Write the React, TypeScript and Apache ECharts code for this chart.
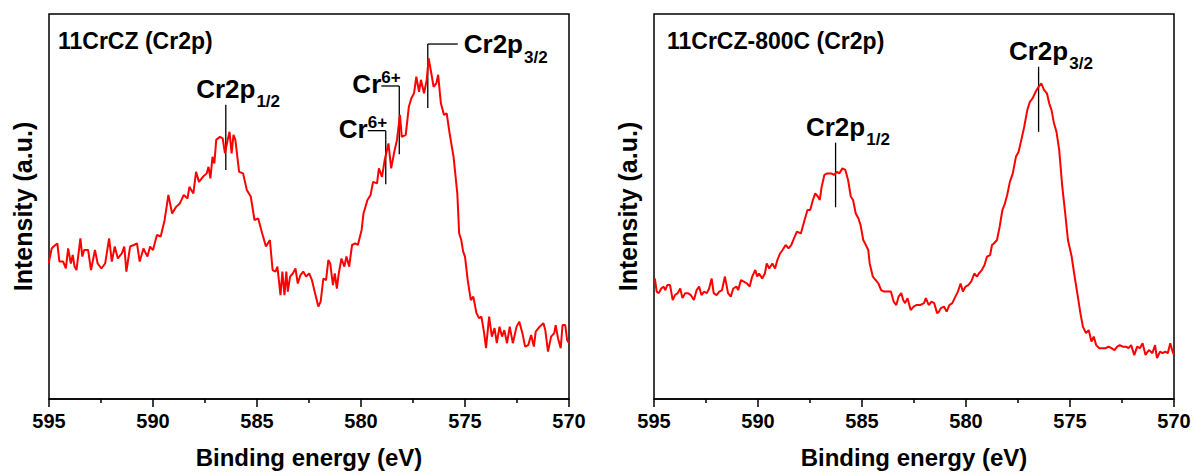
import React, { useEffect, useRef } from 'react';
import * as echarts from 'echarts';

// ---------- data ----------
const xTickValues = [595, 590, 585, 580, 575, 570];
const panelTitles = ['11CrCZ (Cr2p)', '11CrCZ-800C (Cr2p)'];
const xAxisName = 'Binding energy (eV)';
const yAxisName = 'Intensity (a.u.)';

const leftEnergy = [
  595.02, 594.87, 594.78, 594.6, 594.5, 594.32, 594.19, 594.08, 593.95, 593.86, 593.77, 593.68, 593.49, 593.4,
  593.31, 593.12, 592.98, 592.79, 592.66, 592.48, 592.3, 592.11, 591.98, 591.84, 591.69, 591.5, 591.38, 591.28,
  591.1, 590.92, 590.77, 590.64, 590.46, 590.27, 590.14, 590.0, 589.81, 589.63, 589.44, 589.26, 589.08, 588.89,
  588.71, 588.52, 588.34, 588.25, 588.06, 587.93, 587.79, 587.6, 587.42, 587.33, 587.24, 587.14, 587.05, 586.96,
  586.78, 586.65, 586.54, 586.41, 586.32, 586.22, 586.13, 586.04, 585.86, 585.67, 585.49, 585.3, 585.12, 584.94,
  584.75, 584.57, 584.38, 584.25, 584.11, 584.02, 583.87, 583.78, 583.68, 583.59, 583.52, 583.41, 583.28, 583.15,
  583.04, 582.91, 582.78, 582.64, 582.49, 582.36, 582.23, 582.05, 581.94, 581.81, 581.68, 581.57, 581.48, 581.35,
  581.26, 581.16, 581.07, 580.94, 580.8, 580.7, 580.57, 580.43, 580.28, 580.15, 579.97, 579.88, 579.69, 579.54,
  579.42, 579.23, 579.14, 578.99, 578.86, 578.77, 578.68, 578.55, 578.4, 578.27, 578.13, 578.04, 577.85, 577.7,
  577.58, 577.45, 577.34, 577.21, 577.12, 576.97, 576.84, 576.75, 576.62, 576.51, 576.38, 576.29, 576.16, 576.01,
  575.88, 575.74, 575.55, 575.37, 575.28, 575.18, 575.09, 575.0, 574.87, 574.72, 574.6, 574.45, 574.32, 574.21,
  574.08, 573.99, 573.84, 573.71, 573.58, 573.47, 573.34, 573.22, 573.11, 572.98, 572.85, 572.7, 572.52, 572.39,
  572.24, 572.11, 571.96, 571.82, 571.69, 571.6, 571.41, 571.23, 571.14, 571.01, 570.86, 570.71, 570.64, 570.53,
  570.4, 570.31, 570.18, 570.09, 570.0,
];
const leftIntensity = [
  35.2, 39.1, 39.6, 40.4, 35.7, 35.7, 33.9, 39.1, 35.2, 37.4, 34.4, 33.5, 41.7, 37.0,
  38.7, 38.7, 33.5, 38.7, 35.2, 33.9, 35.2, 41.7, 35.7, 39.6, 36.5, 37.8, 39.6, 33.1,
  39.6, 40.0, 40.4, 35.7, 39.1, 37.0, 39.6, 38.7, 42.6, 42.2, 46.5, 53.0, 48.2, 49.9,
  50.8, 53.0, 52.1, 55.1, 53.4, 59.0, 56.4, 57.7, 58.6, 60.3, 57.3, 62.9, 61.2, 67.3,
  68.1, 67.7, 63.8, 67.3, 69.4, 63.8, 68.6, 67.3, 59.0, 58.6, 54.3, 52.6, 46.5, 46.9,
  43.0, 39.6, 41.3, 33.5, 33.1, 34.4, 27.0, 33.1, 27.0, 33.1, 27.9, 31.8, 32.6, 33.9,
  30.0, 32.2, 33.1, 31.8, 32.6, 30.9, 27.9, 24.0, 25.3, 31.3, 30.9, 36.1, 35.2, 29.6,
  32.6, 28.7, 32.6, 36.5, 34.4, 37.0, 34.4, 40.0, 40.4, 40.0, 43.9, 48.2, 51.7, 53.0,
  56.4, 56.0, 59.9, 57.7, 62.1, 64.2, 66.4, 59.9, 64.2, 67.3, 73.8, 68.1, 68.6, 75.9,
  78.1, 79.4, 83.7, 79.8, 82.9, 79.4, 82.9, 88.5, 84.6, 81.1, 82.0, 84.2, 76.8, 73.8,
  74.2, 69.0, 62.9, 53.4, 43.0, 41.3, 38.3, 37.0, 30.9, 25.7, 26.6, 22.3, 21.0, 21.4,
  17.1, 13.2, 21.4, 16.2, 18.4, 14.5, 18.8, 16.2, 17.9, 14.5, 18.8, 14.5, 18.8, 20.1,
  17.1, 13.6, 14.0, 16.6, 13.6, 17.5, 18.8, 19.7, 17.9, 12.3, 16.2, 17.1, 19.2, 15.8,
  13.2, 19.2, 19.2, 15.3, 14.5,
];

const rightEnergy = [
  594.96, 594.87, 594.77, 594.65, 594.54, 594.46, 594.36, 594.23, 594.1, 593.99, 593.86, 593.74, 593.63, 593.5,
  593.37, 593.23, 593.08, 592.95, 592.83, 592.72, 592.59, 592.46, 592.35, 592.23, 592.13, 591.99, 591.86, 591.73,
  591.59, 591.44, 591.31, 591.19, 591.04, 590.95, 590.82, 590.68, 590.53, 590.4, 590.28, 590.13, 590.04, 589.95,
  589.8, 589.67, 589.58, 589.46, 589.31, 589.18, 589.07, 588.94, 588.82, 588.67, 588.53, 588.4, 588.27, 588.13,
  587.94, 587.76, 587.62, 587.49, 587.36, 587.25, 587.12, 587.03, 586.94, 586.81, 586.67, 586.48, 586.34, 586.21,
  586.09, 585.94, 585.8, 585.67, 585.54, 585.43, 585.3, 585.17, 585.07, 584.94, 584.85, 584.7, 584.63, 584.48,
  584.34, 584.21, 584.08, 583.94, 583.75, 583.61, 583.48, 583.35, 583.24, 583.11, 583.02, 582.93, 582.81, 582.66,
  582.52, 582.39, 582.21, 582.02, 581.93, 581.79, 581.66, 581.53, 581.39, 581.3, 581.21, 581.06, 580.93, 580.8,
  580.66, 580.51, 580.39, 580.26, 580.15, 580.02, 579.89, 579.75, 579.6, 579.47, 579.38, 579.24, 579.11, 578.99,
  578.84, 578.75, 578.66, 578.51, 578.38, 578.25, 578.15, 578.02, 577.89, 577.75, 577.6, 577.47, 577.34, 577.2,
  577.05, 576.93, 576.8, 576.65, 576.51, 576.38, 576.25, 576.11, 576.0, 575.89, 575.77, 575.65, 575.52, 575.37,
  575.23, 575.1, 574.92, 574.8, 574.65, 574.5, 574.38, 574.23, 574.1, 573.97, 573.86, 573.74, 573.59, 573.46,
  573.28, 573.15, 573.01, 572.86, 572.73, 572.61, 572.46, 572.31, 572.19, 572.06, 571.91, 571.77, 571.64, 571.51,
  571.37, 571.27, 571.19, 571.04, 570.91, 570.82, 570.67, 570.55, 570.42, 570.3, 570.18, 570.09, 570.0,
];
const rightIntensity = [
  31.3, 27.9, 27.5, 28.7, 29.2, 28.3, 29.6, 29.6, 25.7, 27.0, 27.5, 28.7, 26.2, 27.5,
  27.5, 27.0, 25.7, 28.3, 29.2, 27.0, 27.9, 27.5, 28.7, 31.3, 27.5, 27.0, 27.9, 28.3,
  31.8, 27.5, 26.6, 28.7, 29.2, 28.3, 30.9, 30.5, 30.0, 29.2, 31.8, 33.5, 31.8, 32.6,
  31.3, 32.6, 35.2, 33.9, 35.2, 33.9, 36.1, 37.8, 38.7, 40.0, 39.1, 40.0, 41.7, 43.5,
  43.0, 46.5, 49.1, 49.1, 51.7, 53.4, 52.6, 51.7, 55.1, 58.2, 58.6, 58.6, 58.2, 59.0,
  58.6, 59.9, 59.5, 56.9, 52.6, 51.7, 48.2, 46.9, 45.2, 41.3, 40.4, 38.7, 35.2, 31.8,
  30.9, 30.0, 28.3, 27.9, 27.9, 27.9, 25.3, 24.4, 26.6, 27.5, 25.7, 24.9, 26.2, 23.1,
  24.0, 24.4, 24.4, 24.9, 26.2, 24.4, 25.3, 24.9, 22.3, 22.7, 23.6, 24.0, 22.7, 24.4,
  24.9, 26.6, 27.9, 30.0, 27.9, 29.2, 29.6, 30.5, 32.6, 31.8, 32.6, 33.5, 34.8, 37.0,
  37.4, 40.0, 40.4, 41.3, 44.8, 49.1, 50.4, 53.0, 56.4, 58.6, 62.9, 64.2, 67.3, 70.7,
  75.1, 77.2, 78.1, 79.8, 81.1, 82.0, 80.3, 79.4, 76.8, 75.1, 71.6, 69.4, 64.7, 55.1,
  48.2, 41.3, 37.0, 32.6, 27.5, 22.3, 18.8, 17.1, 17.9, 14.9, 16.2, 14.0, 13.2, 13.2,
  13.2, 13.6, 13.2, 12.7, 13.6, 14.0, 13.6, 13.6, 13.2, 14.0, 11.4, 13.6, 13.2, 14.5,
  11.4, 12.3, 12.7, 11.9, 14.0, 10.6, 12.3, 11.9, 12.3, 11.9, 14.5, 12.7, 11.4,
];

// peak annotations (energy in eV, tick top / bottom in plot intensity units)
const leftAnnoLabel = ['Cr2p', 'Cr', 'Cr', 'Cr2p'];
const leftAnnoScript = ['1/2', '6+', '6+', '3/2'];
const leftAnnoKind = ['top', 'flagLeft', 'flagLeft', 'flagRight'];
const leftAnnoEnergy = [586.5, 578.81, 578.16, 576.79];
const leftAnnoTop = [76.4, 69.7, 81.3, 92.2];
const leftAnnoBottom = [59.5, 55.8, 63.6, 75.6];

const rightAnnoLabel = ['Cr2p', 'Cr2p'];
const rightAnnoScript = ['1/2', '3/2'];
const rightAnnoKind = ['top', 'top'];
const rightAnnoEnergy = [586.27, 576.51];
const rightAnnoTop = [66.6, 86.3];
const rightAnnoBottom = [49.8, 69.4];

// ---------- chart ----------
const FONT = '"Liberation Sans", Arial, Helvetica, sans-serif';
const MAIN_SIZE = 26;
const SCRIPT_SIZE = 17;

function measure(text: string, size: number): number {
  const c = document.createElement('canvas').getContext('2d');
  if (!c) return text.length * size * 0.6;
  c.font = `bold ${size}px "Liberation Sans", Arial, sans-serif`;
  return c.measureText(text).width;
}

export default function App() {
  const ref = useRef<HTMLDivElement>(null);

  useEffect(() => {
    if (!ref.current) return;
    const chart = echarts.init(ref.current, null, { renderer: 'svg' });

    const gridLefts = [49, 654];
    const grids = gridLefts.map((l) => ({
      left: l,
      top: 14,
      width: 520,
      height: 385,
      show: true,
      borderColor: '#000',
      borderWidth: 1.5,
      backgroundColor: 'transparent',
      containLabel: false,
      outerBoundsMode: 'none',
    }));

    const mkX = (i: number) => ({
      type: 'value',
      gridIndex: i,
      min: xTickValues[xTickValues.length - 1],
      max: xTickValues[0],
      interval: 5,
      inverse: true,
      name: xAxisName,
      nameLocation: 'middle',
      nameGap: 46,
      nameTextStyle: { fontSize: 24, fontWeight: 'bold', color: '#000', fontFamily: FONT },
      axisLine: { show: true, onZero: false, lineStyle: { color: '#000', width: 1.5 } },
      axisTick: { show: true, inside: false, length: 8, lineStyle: { color: '#000', width: 1.5 } },
      minorTick: { show: true, splitNumber: 2, length: 4, lineStyle: { color: '#000', width: 1.5 } },
      axisLabel: { fontSize: 20, fontWeight: 'bold', color: '#000', margin: 12, fontFamily: FONT },
      splitLine: { show: false },
      minorSplitLine: { show: false },
    });
    const mkY = (i: number) => ({
      type: 'value',
      gridIndex: i,
      min: 0,
      max: 100,
      name: yAxisName,
      nameLocation: 'middle',
      nameRotate: 90,
      nameGap: 14,
      nameTextStyle: { fontSize: 25, fontWeight: 'bold', color: '#000', fontFamily: FONT },
      axisLine: { show: false },
      axisTick: { show: false },
      axisLabel: { show: false },
      splitLine: { show: false },
    });

    const mkSeries = (i: number, xs: number[], ys: number[]) => ({
      type: 'line',
      xAxisIndex: i,
      yAxisIndex: i,
      data: xs.map((x, k) => [x, ys[k]]),
      showSymbol: false,
      symbol: 'none',
      lineStyle: { color: '#ff0000', width: 2 },
      silent: true,
    });

    chart.setOption({
      animation: false,
      backgroundColor: '#fff',
      textStyle: { fontFamily: FONT },
      title: panelTitles.map((t, i) => ({
        text: t,
        left: [58, 667][i],
        top: 29,
        padding: 0,
        textStyle: { fontSize: 23, fontWeight: 'bold', color: '#000', fontFamily: FONT },
      })),
      grid: grids,
      xAxis: [mkX(0), mkX(1)],
      yAxis: [mkY(0), mkY(1)],
      series: [mkSeries(0, leftEnergy, leftIntensity), mkSeries(1, rightEnergy, rightIntensity)],
    });

    const graphics: any[] = [];
    const addAnnos = (
      gi: number,
      labels: string[],
      scripts: string[],
      kinds: string[],
      energies: number[],
      tops: number[],
      bottoms: number[]
    ) => {
      labels.forEach((lab, k) => {
        const [px, pyT] = chart.convertToPixel({ gridIndex: gi }, [energies[k], tops[k]]) as number[];
        const [, pyB] = chart.convertToPixel({ gridIndex: gi }, [energies[k], bottoms[k]]) as number[];
        const lineStyle = { stroke: '#000', lineWidth: 1.3 };
        graphics.push({ type: 'line', shape: { x1: px, y1: pyT, x2: px, y2: pyB }, style: lineStyle, silent: true });
        const mainStyle = (x: number, y: number, align: string) => ({
          type: 'text',
          x,
          y,
          silent: true,
          style: { text: lab, fontSize: MAIN_SIZE, fontWeight: 'bold', fontFamily: FONT, fill: '#000', align, verticalAlign: 'middle' },
        });
        const scriptStyle = (x: number, y: number, align: string) => ({
          type: 'text',
          x,
          y,
          silent: true,
          style: { text: scripts[k], fontSize: SCRIPT_SIZE, fontWeight: 'bold', fontFamily: FONT, fill: '#000', align, verticalAlign: 'middle' },
        });
        const w = measure(lab, MAIN_SIZE);
        if (kinds[k] === 'top') {
          graphics.push(mainStyle(px, pyT - 16, 'center'));
          graphics.push(scriptStyle(px + w / 2 + 1, pyT - 3, 'left'));
        } else if (kinds[k] === 'flagRight') {
          graphics.push({ type: 'line', shape: { x1: px, y1: pyT, x2: px + 30, y2: pyT }, style: lineStyle, silent: true });
          graphics.push(mainStyle(px + 36, pyT, 'left'));
          graphics.push(scriptStyle(px + 36 + w + 1, pyT + 13, 'left'));
        } else {
          graphics.push({ type: 'line', shape: { x1: px - 18, y1: pyT, x2: px, y2: pyT }, style: lineStyle, silent: true });
          graphics.push(mainStyle(px - 18, pyT - 2, 'right'));
          graphics.push(scriptStyle(px - 18, pyT - 8, 'left'));
        }
      });
    };
    addAnnos(0, leftAnnoLabel, leftAnnoScript, leftAnnoKind, leftAnnoEnergy, leftAnnoTop, leftAnnoBottom);
    addAnnos(1, rightAnnoLabel, rightAnnoScript, rightAnnoKind, rightAnnoEnergy, rightAnnoTop, rightAnnoBottom);
    chart.setOption({ graphic: graphics });

    return () => chart.dispose();
  }, []);

  return (
    <div
      ref={ref}
      style={{ position: 'absolute', left: 0, top: 0, width: 1194, height: 472, background: '#fff' }}
    />
  );
}
